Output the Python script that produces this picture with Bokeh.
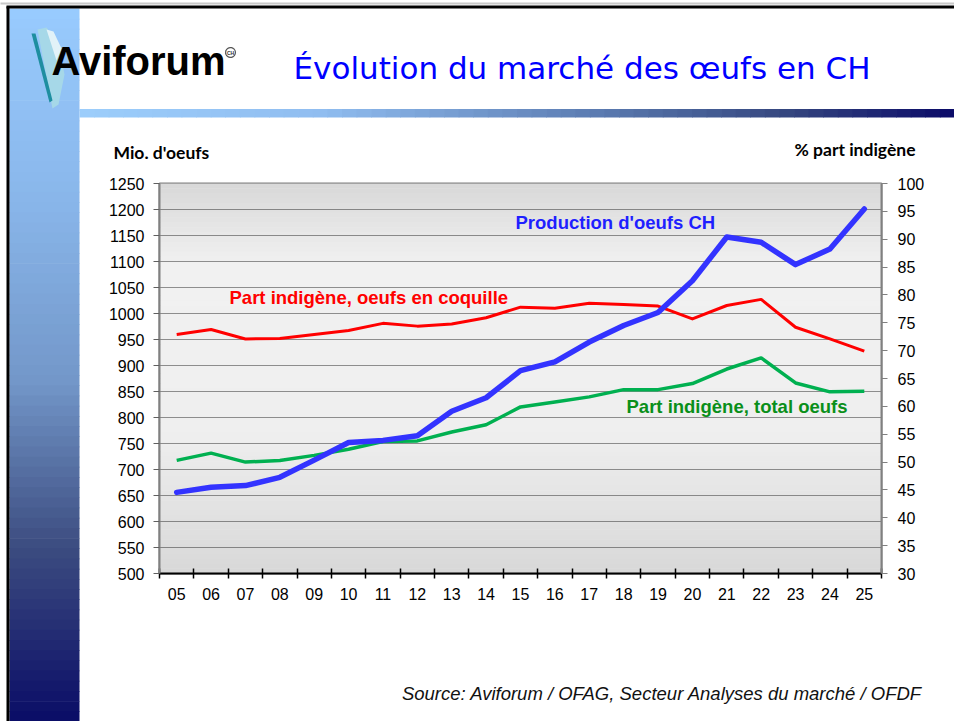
from bokeh.plotting import figure
from bokeh.models import Range1d, LinearAxis, FixedTicker
from bokeh.core.properties import value
from bokeh.embed import file_html
from bokeh.resources import INLINE
import numpy as np

# ---------------- data ----------------
years = ["05", "06", "07", "08", "09", "10", "11", "12", "13", "14", "15",
         "16", "17", "18", "19", "20", "21", "22", "23", "24", "25"]
production = [656, 666, 669, 685, 718, 752, 756, 765, 812, 838, 890,
              907, 945, 977, 1002, 1063, 1147, 1137, 1094, 1124, 1201]
share_shell = [72.9, 73.8, 72.1, 72.2, 72.9, 73.6, 74.9, 74.4, 74.8, 75.9, 77.8,
               77.6, 78.5, 78.3, 78.0, 75.7, 78.1, 79.2, 74.2, 72.1, 69.9]
share_total = [50.3, 51.6, 50.0, 50.3, 51.2, 52.3, 53.7, 53.8, 55.4, 56.7, 59.9,
               60.8, 61.7, 63.0, 63.0, 64.1, 66.7, 68.7, 64.2, 62.6, 62.7]
left_ticks = [500, 550, 600, 650, 700, 750, 800, 850, 900, 950, 1000, 1050, 1100, 1150, 1200, 1250]
right_ticks = [30, 35, 40, 45, 50, 55, 60, 65, 70, 75, 80, 85, 90, 95, 100]

title_text = "Évolution du marché des œufs en CH"
left_title = "Mio. d'oeufs"
right_title = "% part indigène"
source_text = "Source: Aviforum / OFAG, Secteur Analyses du marché / OFDF"
label_prod = "Production d'oeufs CH"
label_shell = "Part indigène, oeufs en coquille"
label_total = "Part indigène, total oeufs"

# ---------------- layout ----------------
W, H = 954, 721
FL, FT, FW, FH = 159, 183, 722, 390
n = len(years)
Y0, Y1 = 500, 1250


def XD(px):
    return (px - FL) * n / FW


def YD(py):
    return Y0 + (FT + FH - py) * (Y1 - Y0) / FH


def hex2rgb(h):
    h = h.lstrip("#")
    return [int(h[i:i + 2], 16) for i in (0, 2, 4)]


def interp(stops, t):
    if t <= stops[0][0]:
        return stops[0][1]
    for (t0, c0), (t1, c1) in zip(stops[:-1], stops[1:]):
        if t0 <= t <= t1:
            f = (t - t0) / (t1 - t0)
            a, b = hex2rgb(c0), hex2rgb(c1)
            return "#%02x%02x%02x" % tuple(int(round(a[i] + (b[i] - a[i]) * f)) for i in range(3))
    return stops[-1][1]


xs = np.arange(n) + 0.5

p = figure(width=W, height=H, output_backend="svg", toolbar_location=None,
           x_range=Range1d(0, n), y_range=Range1d(Y0, Y1),
           min_border_left=FL, min_border_top=FT,
           min_border_right=W - FL - FW, min_border_bottom=H - FT - FH)
p.extra_y_ranges = {"pct": Range1d(30, 100)}
p.background_fill_color = "#f0f0f0"
p.border_fill_color = "white"
p.outline_line_color = "#808080"
p.outline_line_width = 2

# background gradient inside the plot area
bg_stops = [(183, "#d8d8d8"), (265, "#f1f1f1"), (430, "#efefef"), (573, "#d8d8d8")]
N = 80
edges = np.linspace(183, 573, N + 1)
p.quad(left=0, right=n,
       top=[YD(edges[i]) + 0.3 for i in range(N)],
       bottom=[YD(edges[i + 1]) - 0.3 for i in range(N)],
       fill_color=[interp(bg_stops, (edges[i] + edges[i + 1]) / 2) for i in range(N)],
       line_color=None, level="image")

# grid
p.xgrid.visible = False
p.ygrid.ticker = FixedTicker(ticks=left_ticks)
p.ygrid.grid_line_color = "#2a2a2a"
p.ygrid.grid_line_dash = "1 1"
p.ygrid.grid_line_width = 1

# axes
tick_font = "Liberation Sans"
ax = p.xaxis[0]
ax.ticker = FixedTicker(ticks=list(xs), minor_ticks=list(range(n + 1)))
ax.major_label_overrides = {float(x): y for x, y in zip(xs, years)}
ax.major_tick_in = 0
ax.major_tick_out = 0
ax.minor_tick_in = 5
ax.minor_tick_out = 5
ax.minor_tick_line_color = "#000000"
ax.minor_tick_line_width = 1.5
ax.axis_line_color = "#000000"
ax.axis_line_width = 2
ax.major_label_standoff = 9
ax.major_label_text_font = tick_font
ax.major_label_text_font_size = "16px"
ax.major_label_text_color = "#000000"

ay = p.yaxis[0]
ay.ticker = FixedTicker(ticks=left_ticks)
ay.axis_line_color = "#808080"
ay.axis_line_width = 2
ay.major_tick_out = 6
ay.major_tick_in = 0
ay.minor_tick_out = 0
ay.minor_tick_in = 0
ay.major_tick_line_color = "#606060"
ay.major_label_standoff = 9
ay.major_label_text_font = tick_font
ay.major_label_text_font_size = "16px"
ay.major_label_text_color = "#000000"

ry = LinearAxis(y_range_name="pct", ticker=FixedTicker(ticks=right_ticks))
ry.axis_line_color = "#808080"
ry.axis_line_width = 2
ry.major_tick_out = 6
ry.major_tick_in = 0
ry.minor_tick_out = 0
ry.minor_tick_in = 0
ry.major_tick_line_color = "#808080"
ry.major_label_standoff = 10
ry.major_label_text_font = tick_font
ry.major_label_text_font_size = "16px"
ry.major_label_text_color = "#000000"
p.add_layout(ry, "right")

# data lines
p.line(xs, share_total, y_range_name="pct", line_color="#00b050", line_width=3.5, line_join="round")
p.line(xs, share_shell, y_range_name="pct", line_color="#ff0000", line_width=3, line_join="round")
p.line(xs, production, line_color="#3333ff", line_width=5.5, line_join="round", line_cap="round")


# ---------------- slide decorations (page pixel coordinates -> data) ----------------
def poly(pts, color):
    p.patch([XD(a) for a, b in pts], [YD(b) for a, b in pts],
            fill_color=color, fill_alpha=1.0, line_color=None, level="overlay")


def box(x0, y0, x1, y1, color):
    poly([(x0, y0), (x1, y0), (x1, y1), (x0, y1)], color)


strip_stops = [(0, "#99ccff"), (200, "#89b6ea"), (380, "#7397c9"), (547, "#3c4c80"), (721, "#0a0c66")]
M = 70
ed = np.linspace(8, 721, M + 1)
for i in range(M):
    box(9, ed[i], 79, ed[i + 1] + 0.7, interp(strip_stops, (ed[i] + ed[i + 1]) / 2))

bar_stops = [(79, "#9ccdfb"), (320, "#90bdf0"), (600, "#5a7ab0"), (780, "#364880"), (954, "#0a0a68")]
M2 = 60
ex = np.linspace(79, 954, M2 + 1)
for i in range(M2):
    box(ex[i], 108.5, ex[i + 1] + 0.7, 117, interp(bar_stops, (ex[i] + ex[i + 1]) / 2))

# slide border
box(6, 6, 9, 721, "#000000")
box(6, 5, 954, 8, "#000000")
box(0, 2, 954, 4, "#c8c8c8")

# logo feather
poly([(37, 29), (46, 27), (58, 44), (64, 74), (58, 104), (52, 108)], "#a6d8e8")
poly([(46, 29), (53, 31), (61, 48), (56, 60)], "#e2f2f8")
poly([(31, 33), (35, 33), (52, 100), (49, 102)], "#1e8ea0")


def label(x, y, text, size, color="#000000", font="Liberation Sans", style="normal",
          align="left", baseline="middle"):
    p.text(x=[XD(x)], y=[YD(y)], text=[text], text_font=value(font), text_font_size=value(size),
           text_font_style=style, text_color=color, text_align=align, text_baseline=baseline,
           level="overlay")


label(51, 60, "Aviforum", "40px", "#000000", "Liberation Sans", "bold")
ang = np.linspace(0, 2 * np.pi, 24)
poly([(230 + 5.5 * np.cos(t), 52 + 5.5 * np.sin(t)) for t in ang], "#555555")
poly([(230 + 4.3 * np.cos(t), 52 + 4.3 * np.sin(t)) for t in ang], "#ffffff")
label(230, 52.3, "CH", "5px", "#333333", "Liberation Sans", "bold", align="center")

label(293, 67, title_text, "31px", "#0000ff", "DejaVu Sans", "normal")

label(113, 152, left_title, "17.5px", "#000000", "Lato", "bold")
label(915, 149, right_title, "17.5px", "#000000", "Lato", "bold", align="right")

label(515, 222, label_prod, "18.5px", "#1f1fff", "Liberation Sans", "bold")
label(229, 297, label_shell, "18.5px", "#ff0000", "Liberation Sans", "bold")
label(626, 406, label_total, "18.5px", "#0a8f1a", "Liberation Sans", "bold")

label(922, 693, source_text, "18.5px", "#111111", "Liberation Sans", "italic", align="right")

open("out.html", "w").write(file_html(p, INLINE))
